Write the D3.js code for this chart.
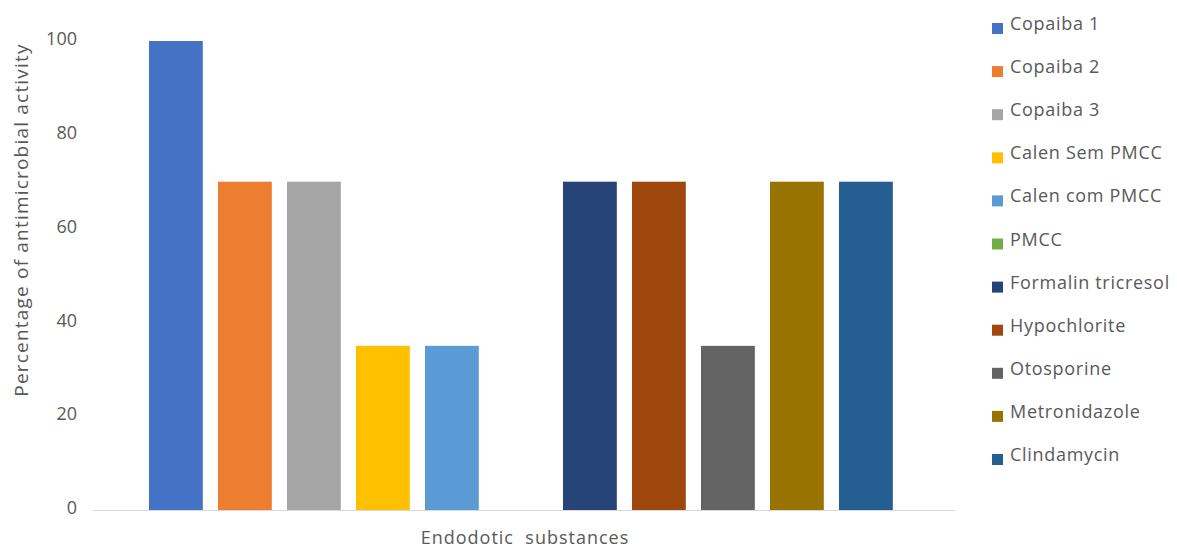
<!DOCTYPE html>
<html><head><meta charset="utf-8">
<script src="https://cdn.jsdelivr.net/npm/d3@7"></script>
<style>body{margin:0;background:#fff}svg{display:block}text{font-family:"Open Sans",sans-serif;fill:#595959}</style>
</head><body><svg id="c" width="1177" height="548"></svg>
<script>
const categories = ["Endodotic  substances"];
const series = ["Copaiba 1","Copaiba 2","Copaiba 3","Calen Sem PMCC","Calen com PMCC","PMCC","Formalin tricresol","Hypochlorite","Otosporine","Metronidazole","Clindamycin"];
const values = [100,70,70,35,35,0,70,70,35,70,70];
const colors = ["#4472C4","#ED7D31","#A5A5A5","#FFC000","#5B9BD5","#70AD47","#264478","#9E480E","#636363","#997300","#255E91"];
const yTicks = [0,20,40,60,80,100];
const yTitle = "Percentage of antimicrobial activity";

const svg = d3.select("#c");
const plot = {left:92,right:955,top:41,bottom:510};
const x0 = d3.scaleBand().domain(categories).range([plot.left,plot.right]).padding(0);
const x1 = d3.scaleBand().domain(series).range([x0(categories[0])+49.4, x0(categories[0])+49.4+759]).paddingInner(0.22).paddingOuter(0.11);
const y = d3.scaleLinear().domain([0,100]).range([plot.bottom,plot.top]);

// y axis labels
const yAxis = svg.append("g").attr("transform",`translate(${plot.left-13},-2)`)
  .call(d3.axisLeft(y).tickValues(yTicks).tickSize(0).tickPadding(2));
yAxis.select(".domain").remove();
yAxis.selectAll("text").attr("font-size",18).attr("fill","#595959").style("font-family","Open Sans");

// bars
svg.append("g").selectAll("rect").data(series).join("rect")
  .attr("x",d=>x1(d)).attr("width",x1.bandwidth())
  .attr("y",(d,i)=>y(values[i])).attr("height",(d,i)=>y(0)-y(values[i]))
  .attr("fill",(d,i)=>colors[i]);

// x axis line
const xAxis = svg.append("g").attr("transform",`translate(0,${plot.bottom})`)
  .call(d3.axisBottom(x0).tickSize(0).tickFormat(""));
xAxis.select(".domain").attr("stroke","#d9d9d9").attr("stroke-width",1);

// axis titles
svg.append("text").attr("x",525).attr("y",544).style("white-space","pre")
  .attr("text-anchor","middle").attr("font-size",18).attr("letter-spacing",1).text(categories[0]);
svg.append("text").attr("transform","translate(28,220) rotate(-90)")
  .attr("text-anchor","middle").attr("font-size",19).attr("letter-spacing",1.2).text(yTitle);

// legend
const lg = svg.append("g").selectAll("g").data(series).join("g")
  .attr("transform",(d,i)=>`translate(992,${25+i*43.1})`);
lg.append("rect").attr("x",0).attr("y",-2).attr("width",11).attr("height",11).attr("fill",(d,i)=>colors[i]);
lg.append("text").attr("x",18).attr("y",5).attr("font-size",18).attr("letter-spacing",0.7).text(d=>d);
</script></body></html>
